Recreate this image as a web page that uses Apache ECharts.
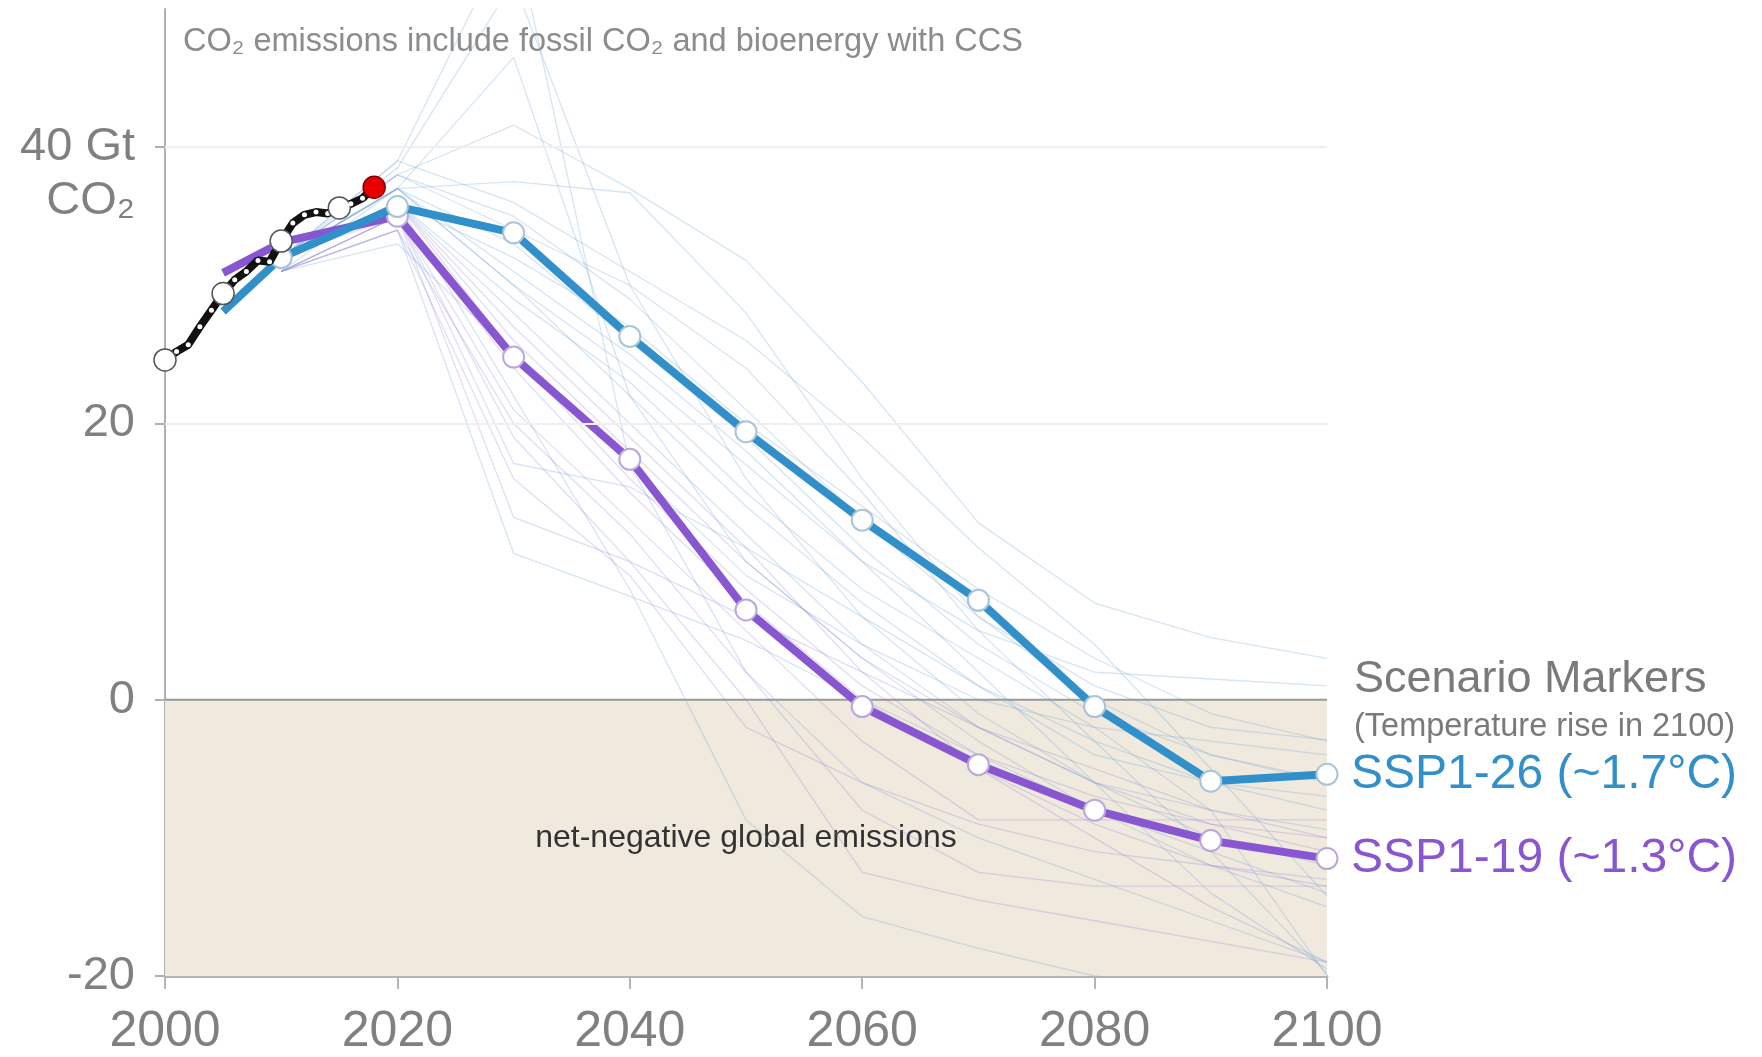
<!DOCTYPE html>
<html>
<head>
<meta charset="utf-8">
<title>CO2 emissions scenarios</title>
<script src="https://cdn.jsdelivr.net/npm/echarts@6/dist/echarts.min.js"></script>
<style>
  html, body { margin: 0; background: #fff; }
  #chart { width: 1762px; height: 1057px; }
</style>
</head>
<body>
<div id="chart"></div>
<script>
// historical emissions, Gt CO2
const histYears = [2000, 2001, 2002, 2003, 2004, 2005, 2006, 2007, 2008, 2009, 2010, 2011, 2012, 2013, 2014, 2015, 2016, 2017, 2018]
const histValues = [24.6, 25.2, 25.7, 27.0, 28.2, 29.4, 30.4, 31.0, 31.8, 31.7, 33.2, 34.5, 35.1, 35.3, 35.2, 35.6, 35.9, 36.3, 37.1]
const histMarkerYears = [2000, 2005, 2010, 2015]
const histLatestYear = 2018

// scenario markers
const ssp126Years = [2005, 2010, 2020, 2030, 2040, 2050, 2060, 2070, 2080, 2090, 2100]
const ssp126Values = [28.1, 32.0, 35.7, 33.8, 26.3, 19.4, 13.0, 7.2, -0.5, -5.9, -5.4]
const ssp119Years = [2005, 2010, 2020, 2030, 2040, 2050, 2060, 2070, 2080, 2090, 2100]
const ssp119Values = [30.9, 33.1, 35.0, 24.8, 17.4, 6.5, -0.5, -4.7, -8.0, -10.2, -11.5]

// other scenarios in the 1.5-2 C range (faint lines)
const scenarioYears = [2010, 2020, 2030, 2040, 2050, 2060, 2070, 2080, 2090, 2100]
const faintBlue = [
  [32, 38, 41.6, 37, 31.8, 23, 12.8, 7, 4.5, 3],
  [32, 39, 56, 17, 2, -6, -10, -13, -16, -19],
  [32, 38.5, 52, 30, 16, 6, -1, -6, -10, -12],
  [31, 37, 46.5, 22, 10, 3, -3, -8, -12, -15],
  [32, 37, 37.5, 36.7, 28, 16, 6, 0, -4, -6],
  [31, 34, 10.6, 7.5, 4.3, 0, -4, -8, -11, -14],
  [32, 35, 17.1, 15.4, 11, 6, 1, -3, -6, -8],
  [32, 36, 22, 8, -8.7, -15.7, -18, -20, -21, -22],
  [32, 37, 30, 24, 17, 10, 5, 2, 1.5, 1],
  [32, 36, 32, 27, 20, 14, 8, 3, -1, -3],
  [32, 38, 34, 30, 24, 15, 5, -3, -11, -19.8],
  [32, 37, 31, 25, 18, 10, 2, -6, -14, -19.5],
  [32, 36, 28, 20, 12, 4, -2, -6, -8, -9.4],
  [32, 38, 35, 29, 21, 13, 6, 1, -2, -2.9],
  [32, 37, 33, 26, 19, 11, 4, -1, -4, -5.8],
  [32, 39, 36, 31, 26, 19, 11, 4, -5, -14.2],
  [32, 36, 29, 23, 15, 8, 3, -2, -8, -20],
  [32, 37, 30, 22, 14, 7, 1, -4, -6, -7],
  [31, 33, 25, 17, 9, 4, 0, -2, -3, -4]
]
const faintPurple = [
  [31, 35, 13.2, 10, 6, 2, -2, -5, -8, -10],
  [32, 36, 26, 18, 10, 3, -2, -6, -9, -11],
  [31, 35, 24, 15, 7, 0, -5, -9, -12, -13.5],
  [31, 34, 20, 12, 2, -8, -12.5, -13.5, -13.5, -13.5],
  [31, 35, 21, 13, 5, -3, -8.7, -8.7, -8.7, -8.7],
  [32, 36, 25, 16, 8, 1, -4, -7, -9, -10],
  [31, 35, 19, 10, 0, -12.5, -14.5, -16, -17.5, -19],
  [31, 34, 16, 9, -2, -6, -9, -11, -12, -13],
  [32, 36, 27, 19, 11, 2, -5, -10, -15, -19]
]

const yearTicks = [2000, 2020, 2040, 2060, 2080, 2100]
const gridLineValues = [20, 40]

const FONT = '"Liberation Sans", Arial, Helvetica, sans-serif'
const BLUE = '#3190c9'
const PURPLE = '#8856d0'
const GREY = '#808080'

const pairs = (xs, ys) => xs.map((x, i) => [x, ys[i]])

const faint = (rows, color) => rows.map(v => ({
  type: 'line',
  data: pairs(scenarioYears, v),
  symbol: 'none',
  silent: true,
  z: 2,
  lineStyle: { color, width: 1.3 }
}))

const background = {
  type: 'line',
  data: [[2000, 0], [2100, 0]],
  symbol: 'none',
  silent: true,
  z: 1,
  lineStyle: { color: '#999', width: 2 },
  markArea: {
    silent: true,
    itemStyle: { color: '#efe9de' },
    label: {
      show: true, position: 'inside', color: '#333', fontSize: 32, fontFamily: FONT,
      formatter: 'net-negative global emissions'
    },
    data: [[{ xAxis: 2000, yAxis: 0 }, { xAxis: 2100, yAxis: -20 }]]
  },
  markLine: {
    silent: true,
    symbol: 'none',
    label: { show: false },
    lineStyle: { color: '#efefef', width: 2, type: 'solid' },
    data: gridLineValues.map(v => ({ yAxis: v }))
  }
}

const marker = (name, years, values, color, border, label, z) => ({
  name,
  type: 'line',
  data: pairs(years, values),
  z,
  symbol: v => (v[0] < 2010 ? 'none' : 'circle'),
  symbolSize: 21,
  lineStyle: { color, width: 8 },
  itemStyle: { color: '#fff', borderColor: border, borderWidth: 2 },
  endLabel: { show: true, formatter: label, color, fontSize: 48, fontFamily: FONT, distance: 24 }
})

const history = {
  name: 'history',
  type: 'line',
  z: 6,
  symbol: 'circle',
  lineStyle: { color: '#111', width: 8 },
  data: histYears.map((y, i) => {
    const latest = y === histLatestYear
    const big = histMarkerYears.includes(y)
    return {
      value: [y, histValues[i]],
      symbolSize: latest || big ? 22 : 5,
      itemStyle: latest
        ? { color: '#e60000', borderColor: '#8a0000', borderWidth: 1.5 }
        : big ? { color: '#fff', borderColor: '#555', borderWidth: 1.5 } : { color: '#fff', borderWidth: 0 }
    }
  })
}

const chart = echarts.init(document.getElementById('chart'), null, { renderer: 'canvas' })
chart.setOption({
  animation: false,
  backgroundColor: '#fff',
  textStyle: { fontFamily: FONT },
  grid: { left: 165, right: 435, top: 9, bottom: 80.5, containLabel: false },
  xAxis: {
    type: 'value', min: 2000, max: 2100, interval: 20,
    axisLine: { onZero: false, lineStyle: { color: '#b5b5b5', width: 3 } },
    axisTick: { show: true, length: 13, lineStyle: { color: '#b5b5b5', width: 2 } },
    axisLabel: { color: GREY, fontSize: 50, margin: 31, formatter: v => (yearTicks.includes(v) ? String(v) : '') },
    splitLine: { show: false }
  },
  yAxis: {
    type: 'value', min: -20, max: 50, interval: 20,
    axisLine: { show: true, lineStyle: { color: '#b0b0b0', width: 2 } },
    axisTick: { show: true, length: 10, customValues: [-20, 0, 20, 40], lineStyle: { color: '#b0b0b0', width: 2 } },
    axisLabel: {
      color: GREY, fontSize: 47, margin: 30, lineHeight: 54, align: 'right',
      customValues: [-20, 0, 20, 40],
      formatter: v => (v === 40 ? ' \n40 Gt\nCO\u2082' : String(v))
    },
    splitLine: { show: false }
  },
  graphic: [
    { type: 'text', x: 183, y: 42, style: { text: 'CO\u2082 emissions include fossil CO\u2082 and bioenergy with CCS', fill: '#8c8c8c', font: '32.5px ' + FONT, textVerticalAlign: 'middle', verticalAlign: 'middle' } },
    { type: 'text', x: 1354, y: 680, style: { text: 'Scenario Markers', fill: '#7a7a7a', font: '45px ' + FONT, textVerticalAlign: 'middle', verticalAlign: 'middle' } },
    { type: 'text', x: 1354, y: 727, style: { text: '(Temperature rise in 2100)', fill: '#7a7a7a', font: '32.5px ' + FONT, textVerticalAlign: 'middle', verticalAlign: 'middle' } }
  ],
  series: [
    background,
    ...faint(faintBlue, 'rgba(120,170,215,0.3)'),
    ...faint(faintPurple, 'rgba(150,130,215,0.28)'),
    marker('SSP1-19', ssp119Years, ssp119Values, PURPLE, '#b9a8dc', 'SSP1-19 (~1.3°C)', 4),
    marker('SSP1-26', ssp126Years, ssp126Values, BLUE, '#a9c3d8', 'SSP1-26 (~1.7°C)', 5),
    history
  ]
})
</script>
</body>
</html>
